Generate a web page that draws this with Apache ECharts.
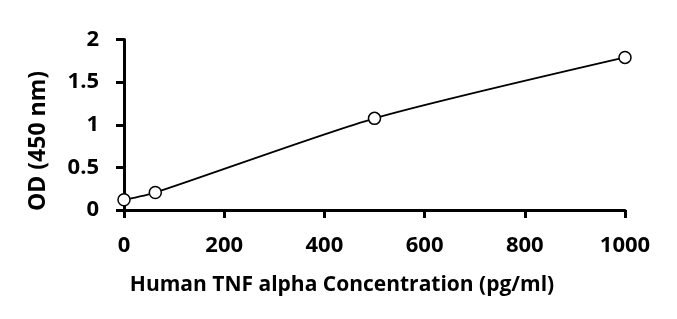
<!DOCTYPE html>
<html><head><meta charset="utf-8">
<script src="https://cdn.jsdelivr.net/npm/echarts@6/dist/echarts.min.js"></script>
<style>html,body{margin:0;padding:0;background:#fff}#c{width:677px;height:319px}</style>
</head><body><div id="c"></div>
<script>
const concentrations = [0, 62.5, 500, 1000];
const odValues = [0.12, 0.205, 1.075, 1.79];
const xTicks = [0, 200, 400, 600, 800, 1000];
const yTicks = [0, 0.5, 1, 1.5, 2];
const xTitle = 'Human TNF alpha Concentration (pg/ml)';
const yTitle = 'OD (450 nm)';

const font = 'Open Sans';
const chart = echarts.init(document.getElementById('c'), null, {renderer: 'canvas'});
chart.setOption({
  animation: false,
  backgroundColor: '#fff',
  grid: {left: 124, right: 52, top: 39.5, bottom: 109, containLabel: false},
  graphic: [{
    type: 'text', x: 38, y: 141, rotation: Math.PI / 2,
    style: {text: yTitle, fontFamily: font, fontWeight: 'bold', fontSize: 23, fill: '#000',
      align: 'center', verticalAlign: 'middle'}
  }, {
    type: 'text', x: 342, y: 285,
    style: {text: xTitle, fontFamily: font, fontWeight: 'bold', fontSize: 21, fill: '#000',
      align: 'center', verticalAlign: 'middle'}
  }],
  xAxis: {
    type: 'value', min: 0, max: 1000, interval: 200,
    axisLine: {show: true, onZero: false, lineStyle: {color: '#000', width: 3}},
    axisTick: {show: true, length: 8, inside: false, lineStyle: {color: '#000', width: 3}},
    axisLabel: {fontFamily: font, fontWeight: 'bold', fontSize: 22, color: '#000', margin: 25,
      formatter: v => xTicks.includes(v) ? String(v) : ''},
    splitLine: {show: false}
  },
  yAxis: {
    type: 'value', min: 0, max: 2, interval: 0.5,
    axisLine: {show: true, lineStyle: {color: '#000', width: 3}},
    axisTick: {show: true, length: 8, inside: false, lineStyle: {color: '#000', width: 3}},
    axisLabel: {fontFamily: font, fontWeight: 'bold', fontSize: 22, color: '#000', margin: 25,
      formatter: v => yTicks.includes(v) ? String(v) : ''},
    splitLine: {show: false}
  },
  series: [{
    type: 'line',
    data: concentrations.map((x, i) => [x, odValues[i]]),
    smooth: 0.22,
    symbol: 'circle', symbolSize: 12,
    itemStyle: {color: '#fff', borderColor: '#000', borderWidth: 1.5},
    lineStyle: {color: '#000', width: 1.8},
    z: 3
  }]
});
</script></body></html>
